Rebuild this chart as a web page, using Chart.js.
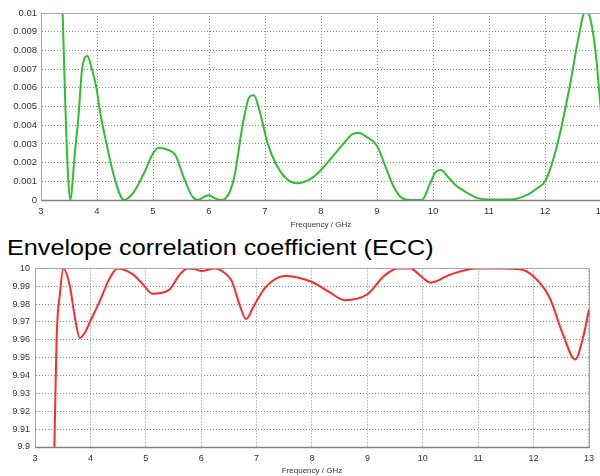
<!DOCTYPE html>
<html>
<head>
<meta charset="utf-8">
<script src="https://cdn.jsdelivr.net/npm/chart.js@4.4.1/dist/chart.umd.min.js"></script>
<style>
  body { margin: 0; width: 600px; height: 476px; overflow: hidden; background: #fff; position: relative; }
  #eccChart { position: absolute; left: 0; top: 0; }
  #dgChart { position: absolute; left: 0; top: 258px; }
  #title { position: absolute; left: 7px; top: 237px; font: 22px "Liberation Sans", Arial, sans-serif; line-height: 1; color: #000; white-space: nowrap; transform: scaleX(1.145); transform-origin: 0 0; }
</style>
</head>
<body>
<canvas id="eccChart" width="620" height="230"></canvas>
<div id="title">Envelope correlation coefficient (ECC)</div>
<canvas id="dgChart" width="600" height="218"></canvas>
<script>
// top curve (ECC)
const eccFreq = [3.385, 3.43, 3.48, 3.52, 3.61, 3.67, 3.73, 3.83, 3.9, 3.99, 4.05, 4.17, 4.32, 4.48,
    4.65, 4.85, 5.0, 5.1, 5.25, 5.4, 5.55, 5.7, 5.8, 5.93, 6.0, 6.1, 6.2, 6.3, 6.45, 6.6, 6.72, 6.8,
    6.9, 7.05, 7.2, 7.4, 7.57, 7.8, 8.0, 8.2, 8.4, 8.55, 8.67, 8.8, 9.0, 9.15, 9.3, 9.45, 9.6, 9.8,
    9.95, 10.05, 10.14, 10.25, 10.4, 10.6, 10.8, 11.0, 11.4, 11.7, 11.85, 12.0, 12.15, 12.3, 12.45,
    12.6, 12.72, 12.8, 12.9, 13.0];
const eccValues = [0.0102, 0.0055, 0.0015, 0, 0.0027, 0.0045, 0.0069, 0.0077, 0.0071, 0.006, 0.0048, 0.003, 0.0011, 0,
    0.0004, 0.0015, 0.0025, 0.0028, 0.0027, 0.0024, 0.0012, 0.0002, 0, 0.0002, 0.00025, 0.0001, 0, 0.0001, 0.0012, 0.004, 0.0055, 0.0056,
    0.0048, 0.003, 0.0019, 0.0011, 0.0009, 0.0011, 0.0016, 0.0023, 0.003, 0.0035, 0.0036, 0.0034, 0.0029, 0.0018, 0.0007, 0.0001, 0, 0,
    0.0009, 0.0015, 0.0016, 0.0013, 0.0008, 0.0004, 0.0001, 0.00003, 0.00003, 0.0003, 0.0006, 0.001, 0.0022, 0.004, 0.0062,
    0.0087, 0.0101, 0.0098, 0.008, 0.0047];

// bottom curve
const dgFreq = [3.35, 3.39, 3.45, 3.51, 3.63, 3.72, 3.81, 3.9, 4.0, 4.16, 4.34, 4.49, 4.76, 4.95, 5.12, 5.42,
    5.6, 5.75, 5.9, 6.0, 6.25, 6.4, 6.55, 6.7, 6.81, 6.95, 7.15, 7.51, 7.99, 8.3, 8.59, 9.0, 9.3, 9.54,
    9.78, 9.95, 10.14, 10.5, 10.97, 11.4, 11.75, 11.99, 12.29, 12.53, 12.75, 12.89, 13.0];
const dgValues = [9.9, 9.961, 9.9857, 10, 9.99, 9.9725, 9.961, 9.964, 9.9706, 9.981, 9.994, 10, 9.9968, 9.991, 9.9858, 9.988,
    9.996, 10, 9.9995, 9.9985, 10, 9.998, 9.993, 9.979, 9.9716, 9.979, 9.989, 9.9957, 9.9925, 9.987, 9.9822, 9.9855, 9.9957, 10,
    10, 9.996, 9.992, 9.9966, 10, 10, 9.9995, 9.9957, 9.9836, 9.963, 9.949, 9.961, 9.977];

const freqTicks = [3, 4, 5, 6, 7, 8, 9, 10, 11, 12, 13];
const xTitle = 'Frequency / GHz';

const fontFamily = '"Liberation Sans", Arial, sans-serif';
const gridColor = '#8a8a8a';
const frameColor = '#a8a8a8';
const axisColor = '#808080';

// draws the gray frame round the plot area, darker line along the bottom
const framePlugin = {
    id: 'frame',
    afterDraw(chart) {
        const a = chart.chartArea;
        const ctx = chart.ctx;
        const l = Math.round(a.left) + 0.5, t = Math.round(a.top) + 0.5;
        const r = Math.round(a.right) + 0.5, b = Math.round(a.bottom) + 0.5;
        ctx.save();
        ctx.strokeStyle = frameColor;
        ctx.lineWidth = 1;
        ctx.strokeRect(l, t, r - l, b - t);
        ctx.strokeStyle = axisColor;
        ctx.lineWidth = 1.5;
        ctx.beginPath();
        ctx.moveTo(l, b);
        ctx.lineTo(r, b);
        ctx.stroke();
        ctx.restore();
    }
};

function toPoints(xs, ys) {
    return xs.map((x, i) => ({ x: x, y: ys[i] }));
}

function makeChart(id, xs, ys, color, yOpts, layout, yWidth, xHeight, fontSize, tickPad) {
    const ctx = document.getElementById(id).getContext('2d');
    return new Chart(ctx, {
        type: 'line',
        data: {
            datasets: [{
                data: toPoints(xs, ys),
                borderColor: color,
                borderWidth: 2,
                pointRadius: 0,
                fill: false,
                cubicInterpolationMode: 'monotone'
            }]
        },
        options: {
            responsive: false,
            animation: false,
            layout: { padding: layout },
            plugins: { legend: { display: false }, tooltip: { enabled: false } },
            scales: {
                x: {
                    type: 'linear',
                    min: 3,
                    max: 13,
                    afterBuildTicks: (scale) => {
                        scale.ticks = freqTicks.map(v => ({ value: v }));
                    },
                    afterFit: (scale) => { scale.height = xHeight; },
                    grid: { color: gridColor, drawTicks: false },
                    border: { color: frameColor, dash: [1, 2] },
                    ticks: {
                        color: '#333',
                        font: { family: fontFamily, size: fontSize },
                        padding: tickPad.x,
                        maxRotation: 0
                    },
                    title: {
                        display: true,
                        text: xTitle,
                        color: '#333',
                        font: { family: fontFamily, size: 8 },
                        padding: 0
                    }
                },
                y: {
                    min: yOpts.min,
                    max: yOpts.max,
                    afterBuildTicks: (scale) => {
                        scale.ticks = yOpts.ticks.map(v => ({ value: v }));
                    },
                    afterFit: (scale) => { scale.width = yWidth; },
                    grid: { color: gridColor, drawTicks: false },
                    border: { color: frameColor, dash: [1, 2] },
                    ticks: {
                        color: '#333',
                        font: { family: fontFamily, size: fontSize },
                        padding: tickPad.y,
                        callback: yOpts.format
                    }
                }
            }
        },
        plugins: [framePlugin]
    });
}

const eccTicks = [0, 0.001, 0.002, 0.003, 0.004, 0.005, 0.006, 0.007, 0.008, 0.009, 0.01];
const dgTicks = [9.9, 9.91, 9.92, 9.93, 9.94, 9.95, 9.96, 9.97, 9.98, 9.99, 10];

makeChart('eccChart', eccFreq, eccValues, '#2ebf2e',
    { min: 0, max: 0.01, ticks: eccTicks, format: v => String(+v.toFixed(3)) },
    { top: 13, right: 19, left: 0, bottom: 0 }, 41, 30, 9.5, { x: 6, y: 4 });

makeChart('dgChart', dgFreq, dgValues, '#ff2a2a',
    { min: 9.9, max: 10, ticks: dgTicks, format: v => String(+v.toFixed(2)) },
    { top: 9, right: 7, left: 0, bottom: 0 }, 35, 29, 9, { x: 6, y: 5 });
</script>
</body>
</html>
